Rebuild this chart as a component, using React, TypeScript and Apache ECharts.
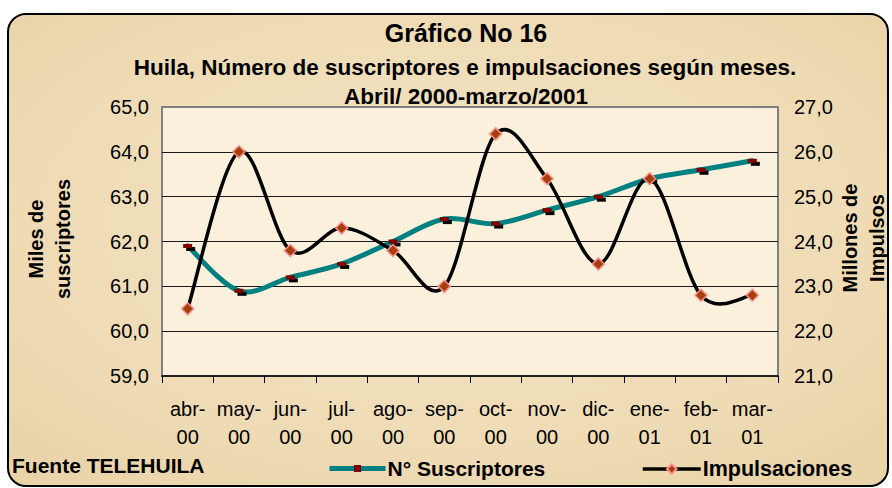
import React, { useEffect, useRef } from "react";
import * as echarts from "echarts";

const categories = ["abr-00", "may-00", "jun-00", "jul-00", "ago-00", "sep-00", "oct-00", "nov-00", "dic-00", "ene-01", "feb-01", "mar-01"];
const suscriptores = [61.9, 60.9, 61.2, 61.5, 62.0, 62.5, 62.4, 62.7, 63.0, 63.4, 63.6, 63.8];
const impulsaciones = [22.5, 26.0, 23.8, 24.3, 23.8, 23.0, 26.4, 25.4, 23.5, 25.4, 22.8, 22.8];
const leftAxisRange = [59, 65];
const rightAxisRange = [21, 27];
const seriesNames = ["N° Suscriptores", "Impulsaciones"];
const titleLines = ["Gráfico No 16", "Huila, Número de suscriptores e impulsaciones según meses.", "Abril/ 2000-marzo/2001"];
const leftAxisName = "Miles de\nsuscriptores";
const rightAxisName = "Millones de\nImpulsos";
const sourceText = "Fuente TELEHUILA";

const FONT = "Arial, 'Liberation Sans', sans-serif";
const fmt = (v: number) => v.toFixed(1).replace(".", ",");

// Excel-like smoothed curve (Catmull-Rom -> Bezier) drawn through the axis scales
const makeCurve = (values: number[], color: string, width: number) => (params: any, api: any) => {
  const i = params.dataIndex;
  const n = values.length;
  if (i >= n - 1) return { type: "group", children: [] };
  const P = (k: number) => {
    const j = Math.max(0, Math.min(n - 1, k));
    return api.coord([j, values[j]]);
  };
  const p0 = P(i - 1);
  const p1 = P(i);
  const p2 = P(i + 1);
  const p3 = P(i + 2);
  const t = 1 / 6;
  return {
    type: "bezierCurve",
    shape: {
      x1: p1[0],
      y1: p1[1],
      x2: p2[0],
      y2: p2[1],
      cpx1: p1[0] + (p2[0] - p0[0]) * t,
      cpy1: p1[1] + (p2[1] - p0[1]) * t,
      cpx2: p2[0] - (p3[0] - p1[0]) * t,
      cpy2: p2[1] - (p3[1] - p1[1]) * t,
    },
    style: { stroke: color, lineWidth: width, fill: "none", lineCap: "round" },
  };
};

export default function App() {
  const ref = useRef<HTMLDivElement>(null);
  useEffect(() => {
    if (!ref.current) return;
    const chart = echarts.init(ref.current, undefined, { renderer: "svg" });
    chart.setOption({
      animation: false,
      textStyle: { fontFamily: FONT },
      graphic: [
        {
          type: "rect",
          z: -10,
          silent: true,
          shape: { x: 8, y: 14, width: 880, height: 472, r: 18 },
          style: {
            fill: new echarts.graphic.RadialGradient(0.5, 0.45, 0.75, [
              { offset: 0, color: "#F3E4C4" },
              { offset: 0.6, color: "#EFDCB6" },
              { offset: 1, color: "#E8D2A6" },
            ]),
            stroke: "#000",
            lineWidth: 2,
          },
        },
        {
          type: "text",
          x: 49,
          y: 239,
          rotation: Math.PI / 2,
          style: {
            text: leftAxisName,
            font: `bold 20px ${FONT}`,
            fill: "#000",
            align: "center",
            verticalAlign: "middle",
            lineHeight: 27,
          },
        },
        {
          type: "text",
          x: 863,
          y: 238,
          rotation: Math.PI / 2,
          z: 10,
          style: {
            text: rightAxisName,
            font: `bold 20px ${FONT}`,
            fill: "#000",
            align: "center",
            verticalAlign: "middle",
            lineHeight: 27,
          },
        },
        {
          type: "text",
          x: 12,
          y: 465,
          style: {
            text: sourceText,
            font: `bold 21px ${FONT}`,
            fill: "#000",
            align: "left",
            verticalAlign: "middle",
          },
        },
      ],
      title: [
        { text: titleLines[0], left: 461, top: 15, textAlign: "center", textStyle: { fontSize: 25, fontWeight: "bold", color: "#000", fontFamily: FONT } },
        { text: titleLines[1], left: 460, top: 51, textAlign: "center", textStyle: { fontSize: 22.5, fontWeight: "bold", color: "#000", fontFamily: FONT } },
        { text: titleLines[2], left: 461, top: 80, textAlign: "center", textStyle: { fontSize: 22.5, fontWeight: "bold", color: "#000", fontFamily: FONT } },
      ],
      legend: [
        {
          data: [
            {
              name: seriesNames[0],
              lineStyle: { color: "#008080", width: 5, opacity: 1 },
              itemStyle: { color: "#800000", shadowColor: "rgba(0,0,0,0)", shadowOffsetX: 0, shadowOffsetY: 0 },
            },
          ],
          left: 322,
          top: 453,
          itemWidth: 56,
          itemHeight: 9,
          itemGap: 4,
          textStyle: { fontSize: 21, fontWeight: "bold", color: "#000", fontFamily: FONT, padding: [0, 0, 0, -3] },
        },
        {
          data: [{ name: seriesNames[1], lineStyle: { color: "#000", width: 3.5, opacity: 1 } }],
          left: 636,
          top: 453,
          itemWidth: 58,
          itemHeight: 12,
          textStyle: { fontSize: 21.5, fontWeight: "bold", color: "#000", fontFamily: FONT, padding: [0, 0, 0, -3] },
        },
      ],
      grid: {
        left: 162,
        right: 114,
        top: 107,
        bottom: 112,
        show: true,
        backgroundColor: "#FBF0DC",
        borderColor: "#808080",
        borderWidth: 2,
      },
      xAxis: {
        type: "category",
        data: categories,
        boundaryGap: true,
        axisLine: { lineStyle: { color: "#000", width: 1.5 } },
        axisTick: { show: true, length: 7, lineStyle: { color: "#000" } },
        axisLabel: {
          color: "#000",
          fontSize: 20,
          fontFamily: FONT,
          lineHeight: 28,
          margin: 19,
          interval: 0,
          formatter: (v: string) => v.replace("-", "-\n"),
        },
        splitLine: { show: false },
      },
      yAxis: [
        {
          type: "value",
          min: leftAxisRange[0],
          max: leftAxisRange[1],
          interval: 1,
          axisLine: { show: false },
          axisTick: { show: false },
          axisLabel: { color: "#000", fontSize: 20, fontFamily: FONT, margin: 13, formatter: fmt },
          splitLine: { show: true, showMinLine: false, showMaxLine: false, lineStyle: { color: "#1a1a1a", width: 1 } },
        },
        {
          type: "value",
          min: rightAxisRange[0],
          max: rightAxisRange[1],
          interval: 1,
          axisLine: { show: false },
          axisTick: { show: false },
          axisLabel: { color: "#000", fontSize: 20, fontFamily: FONT, margin: 16, formatter: fmt },
          splitLine: { show: false },
        },
      ],
      series: [
        {
          name: seriesNames[0],
          type: "line",
          yAxisIndex: 0,
          data: suscriptores,
          symbol: "rect",
          symbolSize: [9, 4],
          showSymbol: true,
          lineStyle: { color: "#008080", width: 0, opacity: 0 },
          itemStyle: {
            color: "#800000",
            borderWidth: 0,
            shadowColor: "#000",
            shadowBlur: 0,
            shadowOffsetX: 3,
            shadowOffsetY: 3,
          },
          z: 3,
        },
        {
          name: seriesNames[1],
          type: "line",
          yAxisIndex: 1,
          data: impulsaciones,
          symbol: "diamond",
          symbolSize: 12,
          showSymbol: true,
          lineStyle: { color: "#000", width: 0, opacity: 0 },
          itemStyle: { color: "#A3400C", borderColor: "#FF8C8C", borderWidth: 1.5 },
          z: 5,
        },
        {
          name: "curva-suscriptores",
          type: "custom",
          yAxisIndex: 0,
          data: suscriptores.map((v, i) => [i, v]),
          encode: { x: 0, y: 1 },
          renderItem: makeCurve(suscriptores, "#008080", 5),
          silent: true,
          z: 2,
        },
        {
          name: "curva-impulsaciones",
          type: "custom",
          yAxisIndex: 1,
          data: impulsaciones.map((v, i) => [i, v]),
          encode: { x: 0, y: 1 },
          renderItem: makeCurve(impulsaciones, "#000", 3.5),
          silent: true,
          z: 4,
        },
      ],
    });
    return () => chart.dispose();
  }, []);
  return <div ref={ref} style={{ position: "absolute", left: 0, top: 0, width: 892, height: 488 }} />;
}
